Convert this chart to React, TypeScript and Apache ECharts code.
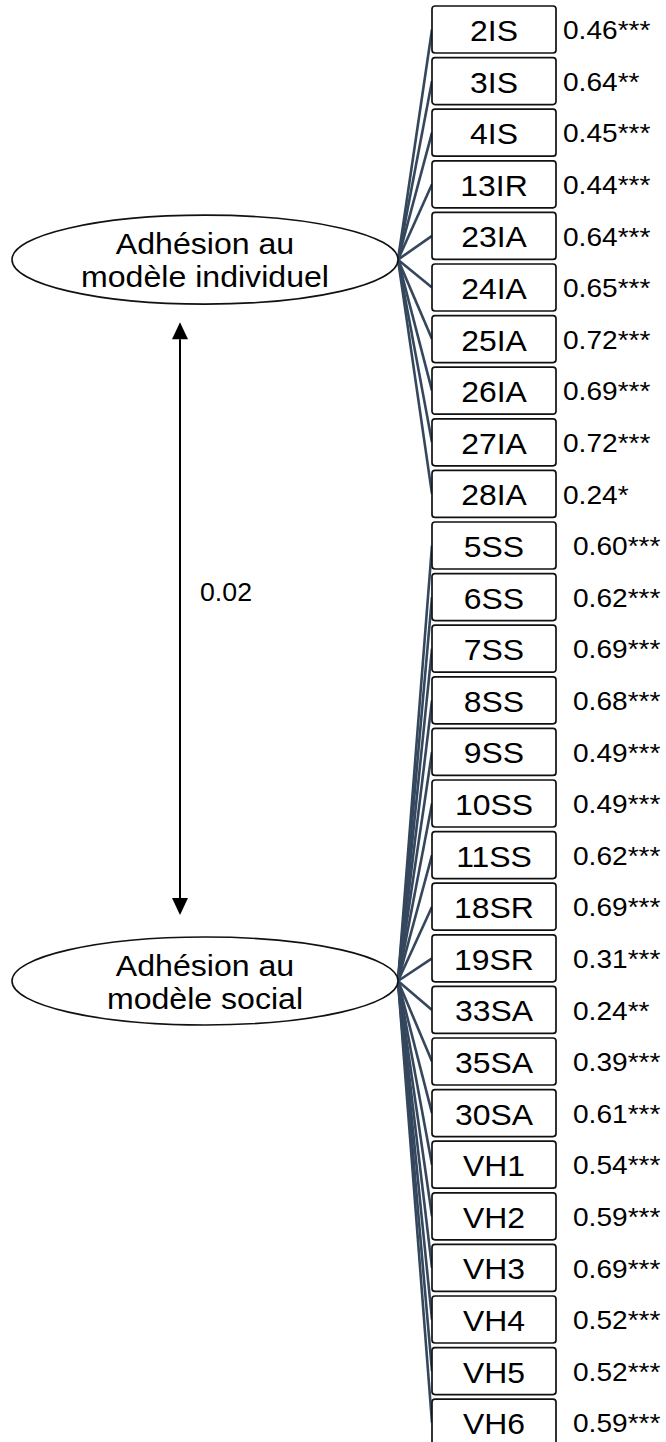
import React, { useEffect, useRef } from "react";
import * as echarts from "echarts";

// ---- data ----
const factors = ["Adhésion au\nmodèle individuel", "Adhésion au\nmodèle social"];
const indicators = [
  "2IS", "3IS", "4IS", "13IR", "23IA", "24IA", "25IA", "26IA", "27IA", "28IA",
  "5SS", "6SS", "7SS", "8SS", "9SS", "10SS", "11SS", "18SR", "19SR", "33SA",
  "35SA", "30SA", "VH1", "VH2", "VH3", "VH4", "VH5", "VH6",
];
const factorOf = [
  0, 0, 0, 0, 0, 0, 0, 0, 0, 0,
  1, 1, 1, 1, 1, 1, 1, 1, 1, 1,
  1, 1, 1, 1, 1, 1, 1, 1,
];
const loadings = [
  0.46, 0.64, 0.45, 0.44, 0.64, 0.65, 0.72, 0.69, 0.72, 0.24,
  0.60, 0.62, 0.69, 0.68, 0.49, 0.49, 0.62, 0.69, 0.31, 0.24,
  0.39, 0.61, 0.54, 0.59, 0.69, 0.52, 0.52, 0.59,
];
const significance = [
  "***", "**", "***", "***", "***", "***", "***", "***", "***", "*",
  "***", "***", "***", "***", "***", "***", "***", "***", "***", "**",
  "***", "***", "***", "***", "***", "***", "***", "***",
];
const covariance = 0.02;

// ---- layout ----
const W = 666;
const H = 1442;
const ROW0 = 29.5;
const ROW_STEP = 51.6;
const BOX_LEFT = 432;
const BOX_W = 124;
const BOX_H = 47;
const VALUE_X = [563, 573];
const ELLIPSE_CX = 205;
const RX = 193;
const RY = [44.5, 44];
const FACTOR_ROW = [4.46, 18.44];
const COV_LABEL_ROW = 10.9;
const ARROW_X = 180;
const FONT = "'Liberation Sans', Arial, Helvetica, sans-serif";
const EDGE_COLOR = "#35475d";

export default function App() {
  const ref = useRef<HTMLDivElement>(null);
  useEffect(() => {
    document.body.style.margin = "0";
    const chart = echarts.init(ref.current!, null, { renderer: "svg" });
    const rowIdx = indicators.map((_, i) => [i]);

    const option: any = {
      animation: false,
      grid: { left: 0, right: 0, top: 0, bottom: 0 },
      xAxis: { type: "value", min: 0, max: W, show: false },
      yAxis: {
        type: "value",
        inverse: true,
        min: -ROW0 / ROW_STEP,
        max: (H - ROW0) / ROW_STEP,
        show: false,
      },
      series: [
        {
          type: "custom",
          coordinateSystem: "cartesian2d",
          clip: false,
          z: 1,
          data: rowIdx,
          renderItem: (params: any, api: any) => {
            const i = params.dataIndex;
            const f = factorOf[i];
            const p0 = api.coord([ELLIPSE_CX + RX, FACTOR_ROW[f]]);
            const p1 = api.coord([BOX_LEFT, i]);
            return {
              type: "line",
              shape: { x1: p0[0], y1: p0[1], x2: p1[0], y2: p1[1] },
              style: { stroke: EDGE_COLOR, lineWidth: 2.6 },
            };
          },
        },
        {
          type: "custom",
          coordinateSystem: "cartesian2d",
          clip: false,
          z: 2,
          data: rowIdx,
          renderItem: (params: any, api: any) => {
            const i = params.dataIndex;
            const f = factorOf[i];
            const p = api.coord([BOX_LEFT, i]);
            const pv = api.coord([VALUE_X[f], i]);
            return {
              type: "group",
              children: [
                {
                  type: "rect",
                  shape: { x: p[0], y: p[1] - BOX_H / 2, width: BOX_W, height: BOX_H, r: 3 },
                  style: { fill: "#ffffff", stroke: "#111111", lineWidth: 1.7 },
                },
                {
                  type: "text",
                  x: p[0] + BOX_W / 2,
                  y: p[1] + 1,
                  scaleX: 1.1,
                  style: {
                    text: indicators[i],
                    fontSize: 29,
                    fontFamily: FONT,
                    fill: "#000",
                    align: "center",
                    verticalAlign: "middle",
                  },
                },
                {
                  type: "text",
                  x: pv[0],
                  y: pv[1] + 1,
                  scaleX: 1.08,
                  style: {
                    text: loadings[i].toFixed(2) + significance[i],
                    fontSize: 26,
                    fontFamily: FONT,
                    fill: "#000",
                    align: "left",
                    verticalAlign: "middle",
                  },
                },
              ],
            };
          },
        },
        {
          type: "custom",
          coordinateSystem: "cartesian2d",
          clip: false,
          z: 3,
          data: factors.map((_, k) => [k]),
          renderItem: (params: any, api: any) => {
            const k = params.dataIndex;
            const c = api.coord([ELLIPSE_CX, FACTOR_ROW[k]]);
            return {
              type: "group",
              children: [
                {
                  type: "ellipse",
                  shape: { cx: c[0], cy: c[1], rx: RX, ry: RY[k] },
                  style: { fill: "#ffffff", stroke: "#111111", lineWidth: 1.6 },
                },
                {
                  type: "text",
                  x: c[0],
                  y: c[1] + 1,
                  scaleX: 1.07,
                  style: {
                    text: factors[k],
                    fontSize: 30,
                    lineHeight: 33,
                    fontFamily: FONT,
                    fill: "#000",
                    align: "center",
                    verticalAlign: "middle",
                  },
                },
              ],
            };
          },
        },
        {
          type: "custom",
          coordinateSystem: "cartesian2d",
          clip: false,
          z: 3,
          data: [[0, 1, covariance]],
          renderItem: (params: any, api: any) => {
            const a = api.coord([ARROW_X, FACTOR_ROW[0]]);
            const b = api.coord([ARROW_X, FACTOR_ROW[1]]);
            const top = a[1] + RY[0] + 18;
            const bot = b[1] - RY[1] - 22;
            const hw = 8;
            const hh = 17;
            const x = a[0];
            const lbl = api.coord([ARROW_X + 20, COV_LABEL_ROW]);
            return {
              type: "group",
              children: [
                {
                  type: "line",
                  shape: { x1: x, y1: top + hh, x2: x, y2: bot - hh },
                  style: { stroke: "#000", lineWidth: 2 },
                },
                {
                  type: "polygon",
                  shape: { points: [[x, top], [x - hw, top + hh], [x + hw, top + hh]] },
                  style: { fill: "#000" },
                },
                {
                  type: "polygon",
                  shape: { points: [[x, bot], [x - hw, bot - hh], [x + hw, bot - hh]] },
                  style: { fill: "#000" },
                },
                {
                  type: "text",
                  x: lbl[0],
                  y: lbl[1],
                  scaleX: 1.07,
                  style: {
                    text: covariance.toFixed(2),
                    fontSize: 25,
                    fontFamily: FONT,
                    fill: "#000",
                    align: "left",
                    verticalAlign: "middle",
                  },
                },
              ],
            };
          },
        },
      ],
    };
    chart.setOption(option);
    return () => chart.dispose();
  }, []);
  return <div ref={ref} style={{ width: W, height: H }} />;
}
